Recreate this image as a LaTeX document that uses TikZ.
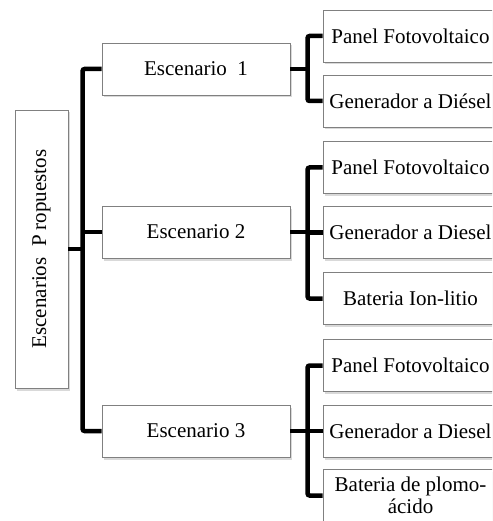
\documentclass[tikz,border=0pt]{standalone}
\usepackage{fontspec}
\setmainfont{Liberation Serif}
\usetikzlibrary{calc,shadows}

\begin{document}
\begin{tikzpicture}[x=1pt,y=-1pt]
\tikzstyle{caja}=[draw=black!50,line width=0.8pt,fill=white,inner sep=2pt,font=\fontsize{21}{22}\selectfont,drop shadow={shadow xshift=2pt,shadow yshift=-2.5pt,opacity=0.3}]
\tikzstyle{escenario}=[caja,minimum width=188pt,minimum height=52pt]
\tikzstyle{equipo}=[caja,minimum width=175pt,minimum height=52pt,align=center]
\tikzstyle{rama}=[line width=4.5pt,rounded corners=2pt]

\useasboundingbox (0,0) rectangle (492,521);
\clip (0,0) rectangle (492,521);

\node(raiz)[caja,minimum width=53pt,minimum height=278pt] at (41.5,249) {\rotatebox{90}{Escenarios\ \ P ropuestos}};

\node(esc1)[escenario] at (196,69) {Escenario\ \ 1};
\node(esc2)[escenario] at (196,232) {Escenario 2};
\node(esc3)[escenario] at (196,431) {Escenario 3};

% escenario 1
\node(pan1)[equipo] at (410.5,36) {Panel Fotovoltaico};
\node(gen1)[equipo] at (410.5,101) {Generador a Diésel};
% escenario 2
\node(pan2)[equipo] at (410.5,167.5) {Panel Fotovoltaico};
\node(gen2)[equipo] at (410.5,232.5) {Generador a Diesel};
\node(bat2)[equipo] at (410.5,298.5) {Bateria Ion-litio};
% escenario 3
\node(pan3)[equipo] at (410.5,365.5) {Panel Fotovoltaico};
\node(gen3)[equipo] at (410.5,431) {Generador a Diesel};
\node(bat3)[equipo] at (410.5,495.5) {Bateria de plomo-\\ácido};

\coordinate (tronco) at ($(esc1.west)+(-19,0)$);
\draw[rama] (esc1.west) -- (tronco) |- (esc3.west);
\draw[rama] (esc2.west) -- (esc2.west -| tronco);
\draw[rama] (raiz.east) -- (raiz.east -| tronco);

\coordinate (barra1) at ($(pan1.west)+(-15,0)$);
\draw[rama] (pan1.west) -- (barra1) |- (gen1.west);
\draw[rama] (esc1.east) -- (esc1.east -| barra1);

\coordinate (barra2) at ($(pan2.west)+(-15,0)$);
\draw[rama] (pan2.west) -- (barra2) |- (bat2.west);
\draw[rama] (esc2.east) -- (esc2.east -| barra2);
\draw[rama] (gen2.west) -- (gen2.west -| barra2);

\coordinate (barra3) at ($(pan3.west)+(-15,0)$);
\draw[rama] (pan3.west) -- (barra3) |- (bat3.west);
\draw[rama] (esc3.east) -- (esc3.east -| barra3);
\draw[rama] (gen3.west) -- (gen3.west -| barra3);

\end{tikzpicture}
\end{document}
